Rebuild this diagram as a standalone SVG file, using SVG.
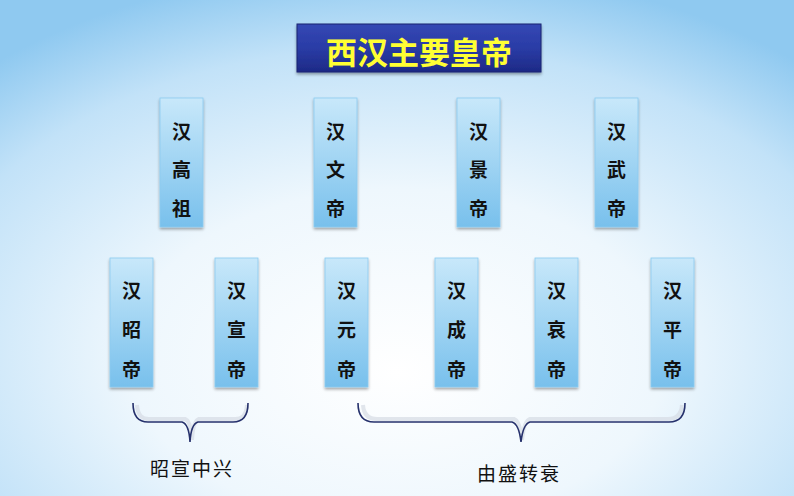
<svg xmlns="http://www.w3.org/2000/svg" width="794" height="496" viewBox="0 0 794 496">
<defs>
<radialGradient id="bg" cx="0.5" cy="0.68" r="0.75" fx="0.5" fy="0.75">
<stop offset="0" stop-color="#ffffff"/>
<stop offset="0.45" stop-color="#eef7fd"/>
<stop offset="0.8" stop-color="#c2e2f8"/>
<stop offset="1" stop-color="#8fc9f0"/>
</radialGradient>
<linearGradient id="boxg" x1="0" y1="0" x2="0" y2="1">
<stop offset="0" stop-color="#c8e8fa"/>
<stop offset="1" stop-color="#78c0ec"/>
</linearGradient>
<linearGradient id="titleg" x1="0" y1="0" x2="0" y2="1">
<stop offset="0" stop-color="#3448b4"/>
<stop offset="0.5" stop-color="#2a3ca6"/>
<stop offset="1" stop-color="#1d2a86"/>
</linearGradient>
<filter id="sh" x="-30%" y="-10%" width="160%" height="125%">
<feGaussianBlur in="SourceAlpha" stdDeviation="1.5"/>
<feOffset dx="0" dy="2" result="b"/>
<feComponentTransfer><feFuncA type="linear" slope="0.35"/></feComponentTransfer>
<feMerge><feMergeNode/><feMergeNode in="SourceGraphic"/></feMerge>
</filter>
</defs>
<style>
.box{fill:url(#boxg);stroke:#8ccbef;stroke-width:0.8;filter:url(#sh)}
.ch{font-family:"Noto Sans CJK SC","Noto Sans CJK JP",sans-serif;font-size:19px;font-weight:bold;fill:#111;text-anchor:middle;dominant-baseline:central}
.lbl{font-family:"Noto Sans CJK SC","Noto Sans CJK JP",sans-serif;font-size:19px;fill:#111;text-anchor:middle;dominant-baseline:central;letter-spacing:2px}
.brace{fill:none;stroke:#26316c;stroke-width:1.6}
.braceSh{fill:none;stroke:#d6dce4;stroke-width:4;opacity:0.7}
</style>
<rect width="794" height="496" fill="url(#bg)"/>
<g id="title">
<rect x="297" y="24" width="244" height="48" fill="url(#titleg)" stroke="#1a2470" stroke-width="1" filter="url(#sh)"/>
<text x="419" y="50" font-family="'Noto Sans CJK SC','Noto Sans CJK JP',sans-serif" font-size="31" font-weight="bold" fill="#ffff33" text-anchor="middle" dominant-baseline="central">西汉主要皇帝</text>
</g>
<g id="gaozu"><rect class="box" x="160" y="98" width="43" height="129"/><text class="ch" x="181.5" y="130">汉</text><text class="ch" x="181.5" y="168">高</text><text class="ch" x="181.5" y="207">祖</text></g>
<g id="wendi"><rect class="box" x="314" y="98" width="43" height="129"/><text class="ch" x="335.5" y="130">汉</text><text class="ch" x="335.5" y="168">文</text><text class="ch" x="335.5" y="207">帝</text></g>
<g id="jingdi"><rect class="box" x="457" y="98" width="43" height="129"/><text class="ch" x="478.5" y="130">汉</text><text class="ch" x="478.5" y="168">景</text><text class="ch" x="478.5" y="207">帝</text></g>
<g id="wudi"><rect class="box" x="595" y="98" width="43" height="129"/><text class="ch" x="616.5" y="130">汉</text><text class="ch" x="616.5" y="168">武</text><text class="ch" x="616.5" y="207">帝</text></g>
<g id="zhaodi"><rect class="box" x="110" y="258" width="43" height="129"/><text class="ch" x="131.5" y="289">汉</text><text class="ch" x="131.5" y="328">昭</text><text class="ch" x="131.5" y="368">帝</text></g>
<g id="xuandi"><rect class="box" x="215" y="258" width="43" height="129"/><text class="ch" x="236.5" y="289">汉</text><text class="ch" x="236.5" y="328">宣</text><text class="ch" x="236.5" y="368">帝</text></g>
<g id="yuandi"><rect class="box" x="325" y="258" width="43" height="129"/><text class="ch" x="346.5" y="289">汉</text><text class="ch" x="346.5" y="328">元</text><text class="ch" x="346.5" y="368">帝</text></g>
<g id="chengdi"><rect class="box" x="435" y="258" width="43" height="129"/><text class="ch" x="456.5" y="289">汉</text><text class="ch" x="456.5" y="328">成</text><text class="ch" x="456.5" y="368">帝</text></g>
<g id="aidi"><rect class="box" x="535" y="258" width="43" height="129"/><text class="ch" x="556.5" y="289">汉</text><text class="ch" x="556.5" y="328">哀</text><text class="ch" x="556.5" y="368">帝</text></g>
<g id="pingdi"><rect class="box" x="651" y="258" width="43" height="129"/><text class="ch" x="672.5" y="289">汉</text><text class="ch" x="672.5" y="328">平</text><text class="ch" x="672.5" y="368">帝</text></g>
<g id="connectors">
<path class="braceSh" d="M137,405 Q138,420 150,419 L185,419 Q191,421 192,440 Q193,421 199,419 L234,419 Q246,420 247,405"/>
<path class="brace" d="M133,403 Q133,422 148,422 L182,422 Q189,424 190,442 Q191,424 198,422 L233,422 Q248,422 248,403"/>
<path class="braceSh" d="M363,405 Q364,419 377,419 L514,419 Q520,421 522,440 Q524,421 530,419 L668,419 Q681,419 682,405"/>
<path class="brace" d="M358,403 Q358,422 374,422 L512,422 Q519,424 521,442 Q523,424 530,422 L669,422 Q685,422 685,403"/>
</g>
<g id="label1"><text class="lbl" x="192" y="467">昭宣中兴</text></g>
<g id="label2"><text class="lbl" x="519" y="472">由盛转衰</text></g>
</svg>
